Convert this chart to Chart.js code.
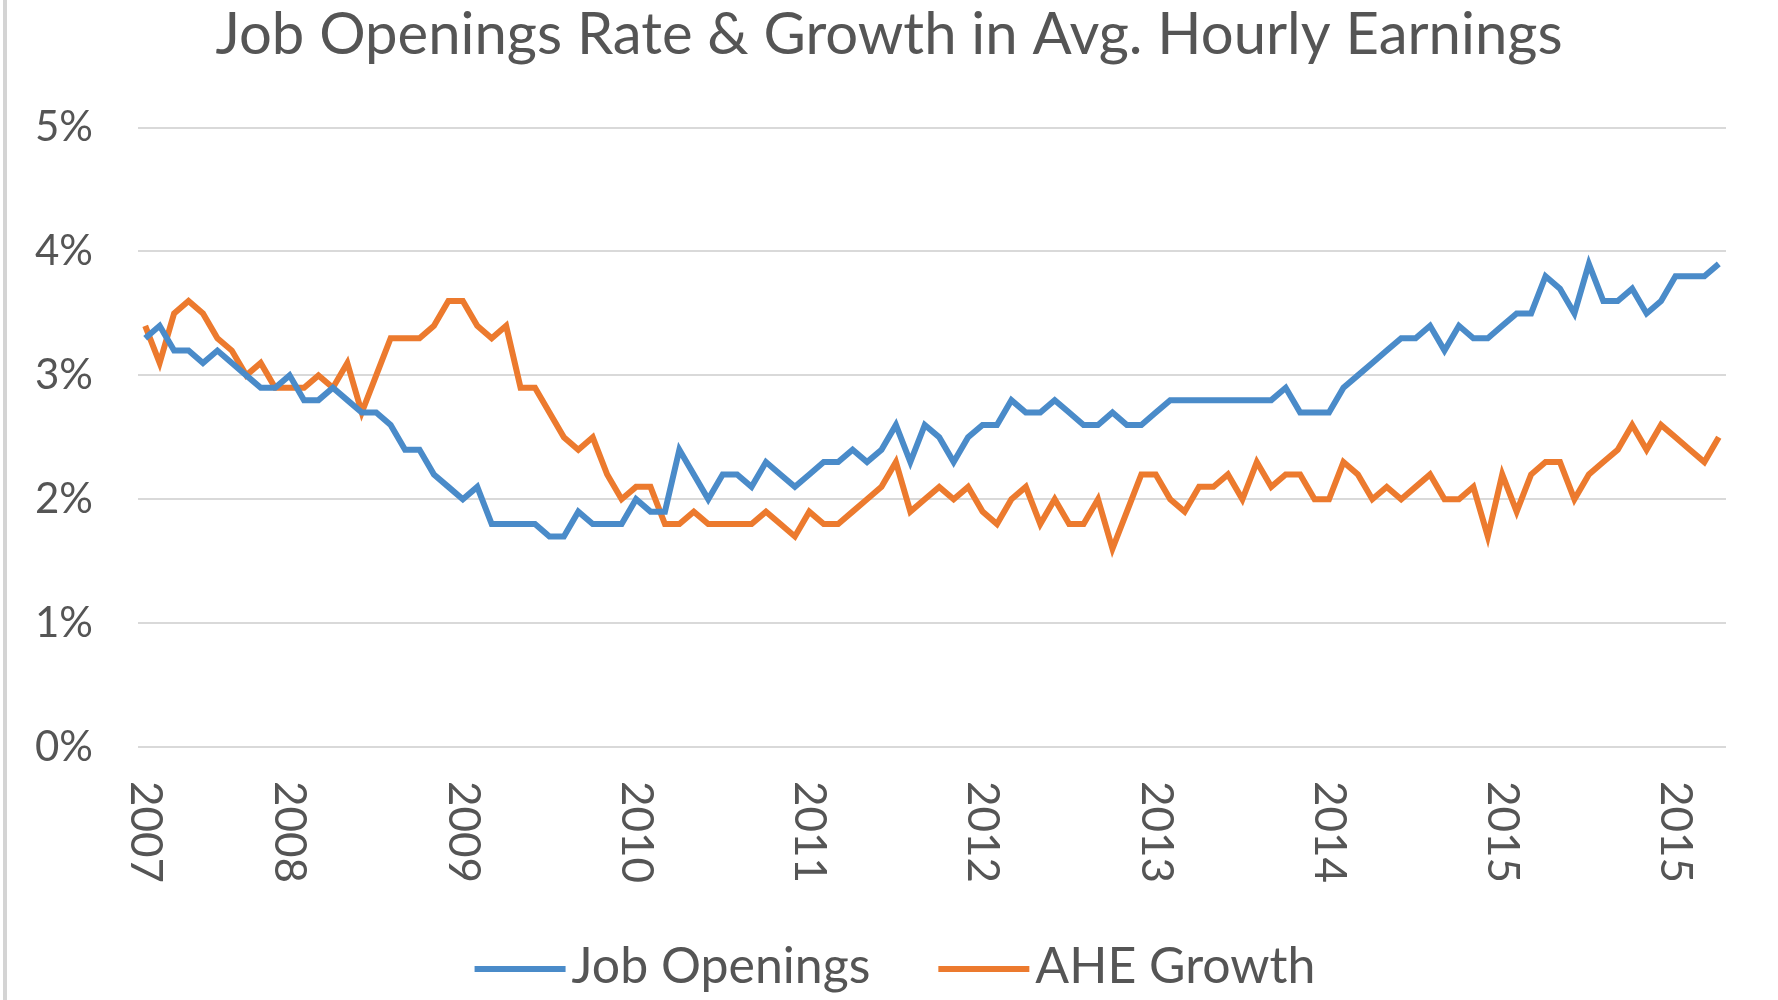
<!DOCTYPE html>
<html>
<head>
<meta charset="utf-8">
<title>Job Openings Rate &amp; Growth in Avg. Hourly Earnings</title>
<script src="https://cdn.jsdelivr.net/npm/chart.js@4.4.1/dist/chart.umd.min.js"></script>
<style>
  html, body { margin: 0; padding: 0; background: #fff; }
  #wrap { width: 1778px; height: 1000px; }
</style>
</head>
<body>
<div id="wrap"><canvas id="jobsChart" width="1778" height="1000"></canvas></div>
<script>
// Monthly series, Mar 2007 .. Apr 2016 (values in %)
const startYear = 2007;
const startMonth = 3;

const jobOpenings = [
  3.3, 3.4, 3.2, 3.2, 3.1, 3.2, 3.1, 3.0, 2.9, 2.9,
  3.0, 2.8, 2.8, 2.9, 2.8, 2.7, 2.7, 2.6, 2.4, 2.4,
  2.2, 2.1, 2.0, 2.1, 1.8, 1.8, 1.8, 1.8, 1.7, 1.7,
  1.9, 1.8, 1.8, 1.8, 2.0, 1.9, 1.9, 2.4, 2.2, 2.0,
  2.2, 2.2, 2.1, 2.3, 2.2, 2.1, 2.2, 2.3, 2.3, 2.4,
  2.3, 2.4, 2.6, 2.3, 2.6, 2.5, 2.3, 2.5, 2.6, 2.6,
  2.8, 2.7, 2.7, 2.8, 2.7, 2.6, 2.6, 2.7, 2.6, 2.6,
  2.7, 2.8, 2.8, 2.8, 2.8, 2.8, 2.8, 2.8, 2.8, 2.9,
  2.7, 2.7, 2.7, 2.9, 3.0, 3.1, 3.2, 3.3, 3.3, 3.4,
  3.2, 3.4, 3.3, 3.3, 3.4, 3.5, 3.5, 3.8, 3.7, 3.5,
  3.9, 3.6, 3.6, 3.7, 3.5, 3.6, 3.8, 3.8, 3.8, 3.9
];

const aheGrowth = [
  3.4, 3.1, 3.5, 3.6, 3.5, 3.3, 3.2, 3.0, 3.1, 2.9,
  2.9, 2.9, 3.0, 2.9, 3.1, 2.7, 3.0, 3.3, 3.3, 3.3,
  3.4, 3.6, 3.6, 3.4, 3.3, 3.4, 2.9, 2.9, 2.7, 2.5,
  2.4, 2.5, 2.2, 2.0, 2.1, 2.1, 1.8, 1.8, 1.9, 1.8,
  1.8, 1.8, 1.8, 1.9, 1.8, 1.7, 1.9, 1.8, 1.8, 1.9,
  2.0, 2.1, 2.3, 1.9, 2.0, 2.1, 2.0, 2.1, 1.9, 1.8,
  2.0, 2.1, 1.8, 2.0, 1.8, 1.8, 2.0, 1.6, 1.9, 2.2,
  2.2, 2.0, 1.9, 2.1, 2.1, 2.2, 2.0, 2.3, 2.1, 2.2,
  2.2, 2.0, 2.0, 2.3, 2.2, 2.0, 2.1, 2.0, 2.1, 2.2,
  2.0, 2.0, 2.1, 1.7, 2.2, 1.9, 2.2, 2.3, 2.3, 2.0,
  2.2, 2.3, 2.4, 2.6, 2.4, 2.6, 2.5, 2.4, 2.3, 2.5
];

// year labels on the category axis (index into the monthly list)
const yearTickIndex = [0, 10, 22, 34, 46, 58, 70, 82, 94, 106];
const yearTickText = ['2007', '2008', '2009', '2010', '2011', '2012', '2013', '2014', '2015', '2015'];

const months = jobOpenings.map((_, i) => {
  const m = startMonth - 1 + i;
  return (startYear + Math.floor(m / 12)) + '-' + String(m % 12 + 1).padStart(2, '0');
});

const labelColor = '#555555';
const fontFamily = 'Lato, "Open Sans", sans-serif';

// white background + thin frame line on the left
const frame = {
  id: 'frame',
  beforeDraw(chart) {
    const ctx = chart.ctx;
    ctx.save();
    ctx.fillStyle = '#fff';
    ctx.fillRect(0, 0, chart.width, chart.height);
    ctx.fillStyle = '#d4d4d4';
    ctx.fillRect(3, 0, 4, chart.height);
    ctx.restore();
  }
};

// rotated year labels, reading top to bottom
const yearLabels = {
  id: 'yearLabels',
  afterDraw(chart) {
    const x = chart.scales.x;
    const ctx = chart.ctx;
    ctx.save();
    ctx.font = '44px ' + fontFamily;
    ctx.fillStyle = labelColor;
    ctx.textAlign = 'left';
    ctx.textBaseline = 'middle';
    yearTickIndex.forEach((idx, i) => {
      ctx.save();
      ctx.translate(x.getPixelForValue(idx), x.top + 34);
      ctx.rotate(Math.PI / 2);
      ctx.fillText(yearTickText[i], 0, 0);
      ctx.restore();
    });
    ctx.restore();
  }
};

// Excel-like legend: short line, small gap, text
const lineLegend = {
  id: 'lineLegend',
  afterDraw(chart) {
    const ctx = chart.ctx;
    const lineLen = 91, gap = 6, itemGap = 68, cy = 967;
    ctx.save();
    ctx.font = '50px ' + fontFamily;
    ctx.textBaseline = 'middle';
    ctx.textAlign = 'left';
    const items = chart.data.datasets.map(ds => ({ ds, w: ctx.measureText(ds.label).width }));
    const total = items.reduce((s, it) => s + lineLen + gap + it.w, 0) + itemGap * (items.length - 1);
    let x = chart.width / 2 + 6 - total / 2;
    items.forEach(it => {
      ctx.strokeStyle = it.ds.borderColor;
      ctx.lineWidth = 6;
      ctx.beginPath();
      ctx.moveTo(x, cy + 2);
      ctx.lineTo(x + lineLen, cy + 2);
      ctx.stroke();
      x += lineLen + gap;
      ctx.fillStyle = labelColor;
      ctx.fillText(it.ds.label, x, cy);
      x += it.w + itemGap;
    });
    ctx.restore();
  }
};

new Chart(document.getElementById('jobsChart'), {
  type: 'line',
  data: {
    labels: months,
    datasets: [
      { label: 'Job Openings', data: jobOpenings, borderColor: '#4a8bc9', backgroundColor: '#4a8bc9', borderWidth: 6, pointRadius: 0, tension: 0 },
      { label: 'AHE Growth', data: aheGrowth, borderColor: '#ec7a2e', backgroundColor: '#ec7a2e', borderWidth: 6, pointRadius: 0, tension: 0 }
    ]
  },
  options: {
    responsive: false,
    animation: false,
    devicePixelRatio: 1,
    layout: { padding: { left: 0, right: 0, top: 0, bottom: 103 } },
    plugins: {
      title: {
        display: true,
        text: 'Job Openings Rate & Growth in Avg. Hourly Earnings',
        color: labelColor,
        font: { family: fontFamily, size: 58, weight: 'normal' },
        padding: { top: 0, bottom: 58 }
      },
      legend: { display: false },
      tooltip: { enabled: false }
    },
    scales: {
      x: {
        type: 'category',
        offset: true,
        grid: { display: false },
        border: { display: false },
        ticks: { display: false },
        afterFit(scale) { scale.height = 150; }
      },
      y: {
        min: 0,
        max: 5,
        ticks: {
          stepSize: 1,
          padding: 45,
          color: labelColor,
          font: { family: fontFamily, size: 42 },
          callback: v => v + '%'
        },
        grid: { color: '#d9d9d9', lineWidth: 2, drawTicks: false },
        border: { display: false },
        afterFit(scale) { scale.width = 138; }
      },
      // empty right-hand axis, only keeps the right margin
      yRight: {
        position: 'right',
        grid: { display: false },
        border: { display: false },
        ticks: { display: false },
        afterFit(scale) { scale.width = 52; }
      }
    }
  },
  plugins: [frame, yearLabels, lineLegend]
});
</script>
</body>
</html>
